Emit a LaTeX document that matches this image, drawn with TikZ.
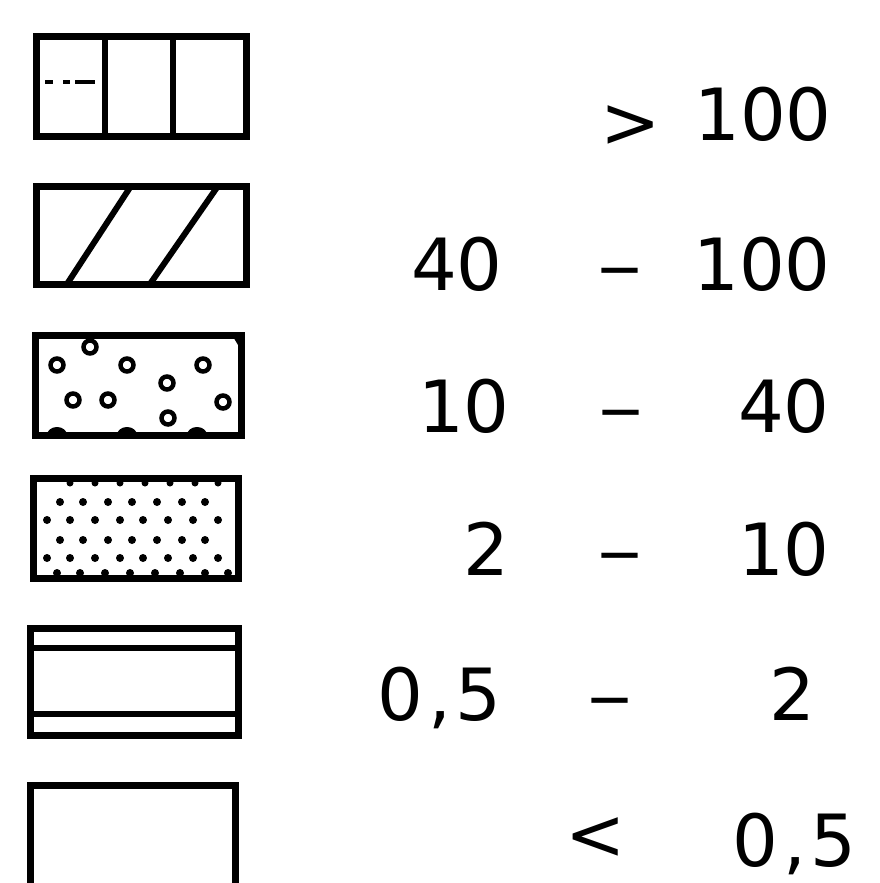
\documentclass[tikz,border=0pt]{standalone}
\usepackage{fontspec}
\setmainfont{DejaVu Sans}
\begin{document}
\begin{tikzpicture}[x=1pt,y=-1pt,
  frame/.style={line width=7pt,line join=miter,line cap=rect},
  inner/.style={line width=6pt},
  ring/.style={line width=4.5pt},
  lbl/.style={inner sep=0pt,font=\fontsize{72}{80}\selectfont}]
\useasboundingbox (0,0) rectangle (880,883);
% Box 1: three vertical panels
\draw[frame] (36,37) rectangle (246,136);
\draw[inner] (105,37) -- (105,136);
\draw[inner] (173,37) -- (173,136);
\draw[line width=4pt] (45,82) -- (53,82) (63,82) -- (70,82) (75,82) -- (95,82);
% Box 2: diagonal hatching
\draw[frame] (36,186) rectangle (246,284);
\draw[inner] (67,284) -- (131,186);
\draw[inner] (150,284) -- (218,186);
% Box 3: circles
\draw[frame] (35,335) rectangle (241,435);
\foreach \p in {(90,347),(57,365),(127,365),(203,365),(167,383),(73,400),(108,400),(223,402),(168,418)}
  \draw[ring] \p circle (6.5);
\foreach \x in {47,117,187}
  \fill (\x,435) arc[start angle=180,end angle=360,x radius=10,y radius=8] -- cycle;
\fill (232,335) -- (241,335) -- (241,350) -- cycle;
% Box 4: dots
\draw[frame] (33,478) rectangle (238,578);
\foreach \y in {502,540}
  \foreach \x in {60,83,108,132,157,182,205}
    \fill (\x,\y) circle (4);
\foreach \y in {520,558}
  \foreach \x in {47,70,95,120,143,168,193,218}
    \fill (\x,\y) circle (4);
\foreach \x in {70,95,120,145,170,195,218}
  \fill (\x,483) circle (3.5);
\foreach \x in {57,80,105,130,155,180,205,228}
  \fill (\x,573) circle (4);
% Box 5: double lines top and bottom
\draw[frame] (30,628) rectangle (238,735);
\draw[inner] (30,648) -- (238,648);
\draw[inner] (30,714) -- (238,714);
% Box 6: plain (cut off at bottom)
\draw[frame,line cap=butt] (30,883) -- (30,785) -- (235,785) -- (235,883);
% Labels
\node[lbl,anchor=base west] (g1) at (600,147) {>};
\node[lbl,anchor=base east] (b1) at (832,140) {100};
\node[lbl,anchor=base west] (a2) at (411,290) {40};
\node[lbl,anchor=base,xscale=1.25] (d2) at (620,290) {–};
\node[lbl,anchor=base east] (b2) at (831,290) {100};
\node[lbl,anchor=base east] (a3) at (510,432) {10};
\node[lbl,anchor=base,xscale=1.25] (d3) at (621,432) {–};
\node[lbl,anchor=base east] (b3) at (830,432) {40};
\node[lbl,anchor=base east] (a4) at (510,575) {2};
\node[lbl,anchor=base,xscale=1.25] (d4) at (620,575) {–};
\node[lbl,anchor=base east] (b4) at (830,575) {10};
\node[lbl,anchor=base east] (a5) at (502,720) {0\kern5pt,\kern5pt5};
\node[lbl,anchor=base,xscale=1.25] (d5) at (610,720) {–};
\node[lbl,anchor=base east] (b5) at (815,720) {2};
\node[lbl,anchor=base west] (l6) at (565,859) {<};
\node[lbl,anchor=base east] (b6) at (857,866) {0\kern5pt,\kern5pt5};
\end{tikzpicture}
\end{document}
